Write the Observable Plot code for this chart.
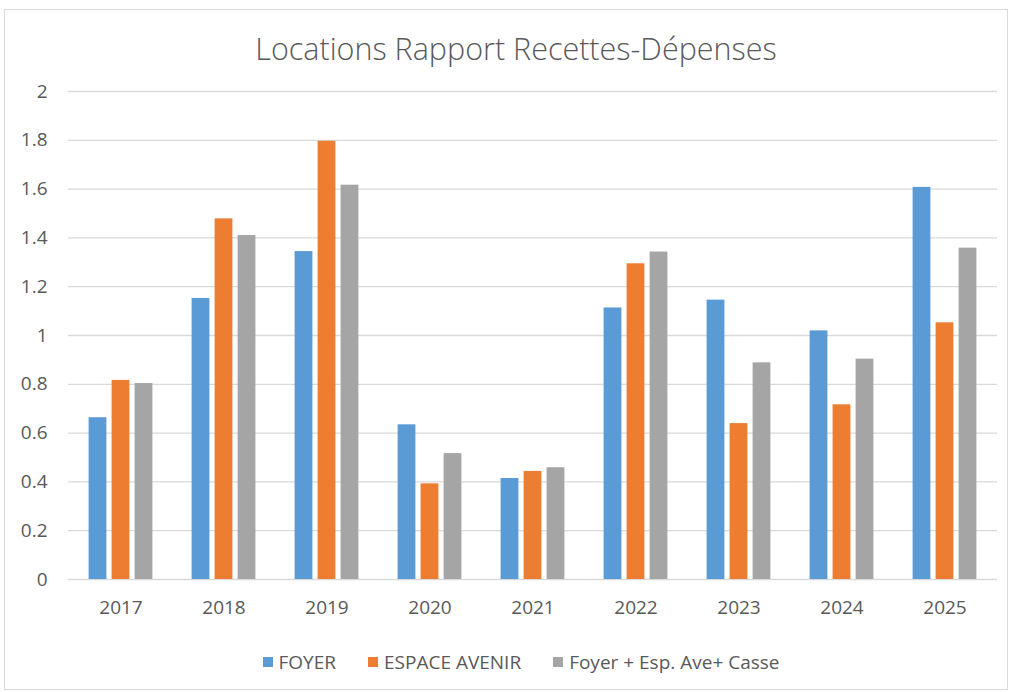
<!DOCTYPE html>
<html><head><meta charset="utf-8">
<script src="https://cdn.jsdelivr.net/npm/d3@7"></script>
<script src="https://cdn.jsdelivr.net/npm/@observablehq/plot@0.6"></script>
<style>
body{margin:0;background:#fff;font-family:"Open Sans",sans-serif;color:#595959;}
#frame{position:absolute;left:4px;top:9px;width:1004px;height:681px;border:1px solid #d9d9d9;box-sizing:border-box;}
#title{position:absolute;left:0;top:27px;width:1032px;text-align:center;font-size:30.5px;font-weight:300;line-height:42px;white-space:nowrap;}
#chart{position:absolute;left:0;top:70px;}
#legend{position:absolute;left:0;top:650px;width:1042px;display:flex;justify-content:center;gap:32px;font-size:19px;line-height:24px;}
#legend .it{display:flex;align-items:center;gap:6px;}
#legend .sw{width:10px;height:10px;display:inline-block;}
</style></head>
<body>
<div id="frame"></div>
<div id="title">Locations Rapport Recettes-Dépenses</div>
<div id="chart"></div>
<div id="legend"></div>
<script>
const years = ["2017","2018","2019","2020","2021","2022","2023","2024","2025"];
const foyer  = [0.663,1.152,1.344,0.634,0.414,1.113,1.145,1.019,1.607];
const espace = [0.816,1.478,1.796,0.392,0.443,1.294,0.639,0.716,1.052];
const total  = [0.803,1.410,1.616,0.516,0.458,1.342,0.888,0.903,1.358];
const seriesNames = ["FOYER","ESPACE AVENIR","Foyer + Esp. Ave+ Casse"];
const seriesColors = ["#5B9BD5","#ED7D31","#A5A5A5"];
const yTicks = [0,0.2,0.4,0.6,0.8,1,1.2,1.4,1.6,1.8,2];

const seriesValues = [foyer, espace, total];
const offsets = [-23, 0, 23];

const bars = seriesValues.map((vals, k) =>
  Plot.barY(years.map((yr, i) => ({year: yr, value: vals[i], series: seriesNames[k]})), {
    x: "year", y: "value", fill: seriesColors[k],
    insetLeft: 42.6, insetRight: 42.6, dx: offsets[k]
  })
);

const plot = Plot.plot({
  width: 1012, height: 560,
  marginLeft: 68, marginRight: 15, marginTop: 21, marginBottom: 51,
  style: {fontFamily: "Open Sans, sans-serif", fontSize: "19px", color: "#595959", background: "transparent"},
  x: {domain: years, padding: 0, tickSize: 0, tickPadding: 21, label: null},
  y: {domain: [0, 2], ticks: yTicks, tickSize: 0, tickPadding: 21, label: null,
      tickFormat: d => String(+d.toFixed(1))},
  marks: [
    Plot.ruleY(yTicks, {stroke: "#d9d9d9", strokeWidth: 1.3}),
    ...bars
  ]
});
document.getElementById("chart").appendChild(plot);

const lg = d3.select("#legend");
seriesNames.forEach((n, k) => {
  const it = lg.append("div").attr("class", "it");
  it.append("span").attr("class", "sw").style("background", seriesColors[k]);
  it.append("span").text(n);
});
</script>
</body></html>
